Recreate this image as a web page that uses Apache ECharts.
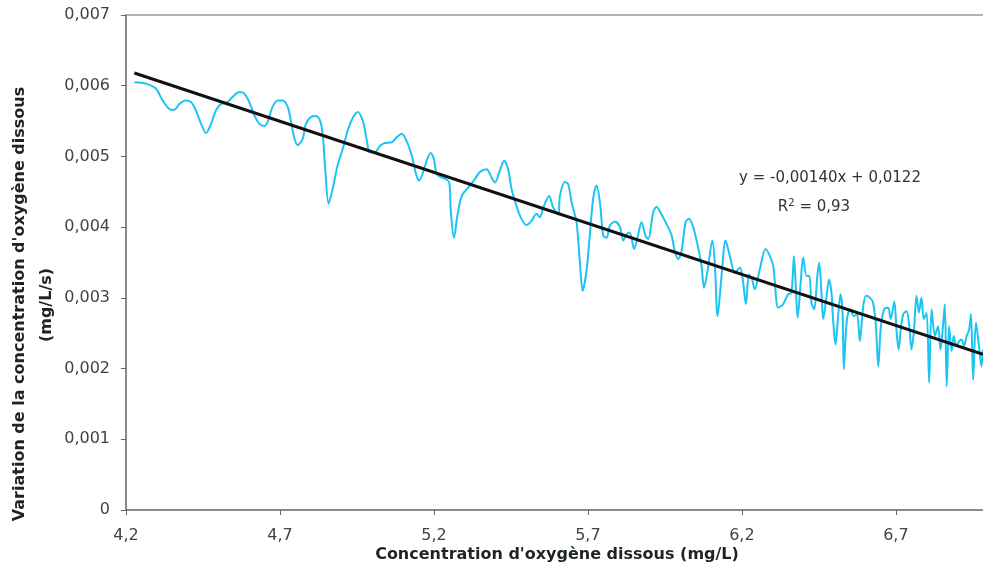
<!DOCTYPE html>
<html>
<head>
<meta charset="utf-8">
<script src="https://cdn.jsdelivr.net/npm/echarts@6/dist/echarts.min.js"></script>
<style>html,body{margin:0;padding:0;background:#fff}#c{width:983px;height:568px}</style>
</head>
<body>
<div id="c"></div>
<script>
// Measured series (x: concentration mg/L, y: variation mg/L/s)
var xValues = [
4.227,4.265,4.297,4.319,4.341,4.357,4.373,4.393,4.411,4.427,4.444,4.460,4.476,4.492,4.508,4.530,4.546,4.568,4.584,4.600,
4.617,4.633,4.649,4.660,4.676,4.693,4.709,4.725,4.736,4.746,4.757,4.774,4.784,4.801,4.817,4.830,4.839,4.847,4.858,4.871,
4.887,4.904,4.921,4.937,4.953,4.970,4.981,4.992,5.008,5.025,5.041,5.063,5.079,5.095,5.111,5.128,5.142,5.152,5.165,5.178,
5.189,5.200,5.209,5.225,5.239,5.250,5.255,5.265,5.276,5.290,5.311,5.333,5.349,5.371,5.387,5.398,5.414,5.428,5.441,5.452,
5.468,5.485,5.501,5.517,5.533,5.544,5.557,5.574,5.587,5.604,5.609,5.625,5.636,5.647,5.663,5.674,5.683,5.696,5.706,5.717,
5.728,5.739,5.750,5.761,5.771,5.788,5.804,5.815,5.826,5.836,5.850,5.861,5.874,5.887,5.896,5.912,5.923,5.939,5.956,5.972,
5.982,5.993,6.004,6.017,6.028,6.042,6.058,6.069,6.077,6.089,6.104,6.112,6.121,6.134,6.147,6.161,6.177,6.194,6.204,6.213,
6.223,6.233,6.242,6.258,6.277,6.291,6.302,6.318,6.334,6.350,6.361,6.369,6.375,6.381,6.391,6.399,6.410,6.419,6.426,6.435,
6.445,6.451,6.459,6.464,6.473,6.483,6.491,6.496,6.504,6.513,6.520,6.527,6.531,6.540,6.551,6.564,6.574,6.583,6.594,6.603,
6.616,6.626,6.635,6.643,6.651,6.662,6.675,6.683,6.695,6.702,6.709,6.716,6.724,6.735,6.743,6.751,6.759,6.767,6.775,6.783,
6.791,6.800,6.808,6.816,6.827,6.837,6.845,6.852,6.859,6.865,6.873,6.881,6.888,6.897,6.906,6.913,6.921,6.930,6.938,6.944,
6.951,6.960,6.970,6.978,6.983
];
var yValues = [
0.00605,0.00603,0.00596,0.00579,0.00567,0.00566,0.00574,0.00579,0.00577,0.00565,0.00546,0.00533,0.00546,0.00565,0.00574,0.00577,0.00584,0.00591,0.00589,0.00577,
0.00558,0.00546,0.00543,0.00549,0.00570,0.00579,0.00579,0.00570,0.00549,0.00527,0.00516,0.00525,0.00546,0.00556,0.00557,0.00551,0.00530,0.00482,0.00433,0.00454,
0.00487,0.00511,0.00538,0.00555,0.00563,0.00549,0.00525,0.00506,0.00506,0.00515,0.00519,0.00520,0.00527,0.00532,0.00522,0.00501,0.00475,0.00466,0.00478,0.00496,
0.00505,0.00496,0.00475,0.00470,0.00468,0.00463,0.00421,0.00385,0.00416,0.00444,0.00456,0.00468,0.00478,0.00482,0.00470,0.00463,0.00480,0.00494,0.00482,0.00454,
0.00430,0.00411,0.00403,0.00409,0.00419,0.00414,0.00430,0.00444,0.00428,0.00418,0.00444,0.00464,0.00461,0.00435,0.00407,0.00350,0.00310,0.00340,0.00388,0.00440,
0.00459,0.00435,0.00388,0.00385,0.00402,0.00408,0.00400,0.00381,0.00390,0.00392,0.00369,0.00385,0.00407,0.00388,0.00383,0.00421,0.00429,0.00418,0.00404,0.00388,
0.00366,0.00355,0.00366,0.00407,0.00412,0.00400,0.00371,0.00345,0.00314,0.00340,0.00381,0.00350,0.00274,0.00331,0.00381,0.00359,0.00336,0.00343,0.00322,0.00291,
0.00333,0.00326,0.00312,0.00340,0.00369,0.00359,0.00345,0.00286,0.00291,0.00305,0.00307,0.00359,0.00317,0.00272,0.00322,0.00357,0.00331,0.00331,0.00293,0.00284,
0.00331,0.00350,0.00303,0.00270,0.00295,0.00326,0.00307,0.00270,0.00234,0.00277,0.00305,0.00279,0.00199,0.00265,0.00284,0.00274,0.00277,0.00239,0.00288,0.00303,
0.00300,0.00293,0.00262,0.00203,0.00258,0.00284,0.00286,0.00270,0.00295,0.00255,0.00227,0.00255,0.00277,0.00281,0.00262,0.00227,0.00255,0.00303,0.00279,0.00300,
0.00270,0.00279,0.00180,0.00284,0.00246,0.00260,0.00227,0.00255,0.00291,0.00175,0.00260,0.00225,0.00246,0.00232,0.00239,0.00241,0.00232,0.00246,0.00255,0.00277,
0.00184,0.00265,0.00232,0.00203,0.00227
];
// Linear trend line endpoints (as drawn)
var trendX = [4.227, 6.983];
var trendY = [0.00618, 0.00220];
// Tick labels
var xTicks = [4.2, 4.7, 5.2, 5.7, 6.2, 6.7];
var yTicks = [0, 0.001, 0.002, 0.003, 0.004, 0.005, 0.006, 0.007];

var seriesData = xValues.map(function (x, i) { return [x, yValues[i]]; });
var trendData = trendX.map(function (x, i) { return [x, trendY[i]]; });

var chart = echarts.init(document.getElementById('c'), null, { renderer: 'canvas' });
var FONT = 'DejaVu Sans';
chart.setOption({
  animation: false,
  backgroundColor: '#ffffff',
  grid: { left: 126, right: 0, top: 15, bottom: 58 },
  xAxis: [{
    type: 'value', min: 4.2, max: 6.983,
    axisLine: { show: true, lineStyle: { color: '#5a6a6a', width: 1.5 } },
    axisTick: { show: true, length: 5, lineStyle: { color: '#5a6a6a' }, customValues: xTicks },
    axisLabel: { customValues: xTicks, margin: 18, color: '#3c4646', fontFamily: FONT, fontSize: 16,
      formatter: function (v) { return v.toFixed(1).replace('.', ','); } },
    splitLine: { show: false }
  }, {
    type: 'value', min: 4.2, max: 6.983, position: 'top',
    axisLine: { show: true, lineStyle: { color: '#9a9a9a', width: 1.5 } },
    axisTick: { show: false }, axisLabel: { show: false }, splitLine: { show: false }
  }],
  yAxis: {
    type: 'value', min: 0, max: 0.007, interval: 0.001,
    axisLine: { show: true, lineStyle: { color: '#5a6a6a', width: 1.5 } },
    axisTick: { show: true, length: 5, lineStyle: { color: '#5a6a6a' } },
    axisLabel: { margin: 16, color: '#3c4646', fontFamily: FONT, fontSize: 16,
      formatter: function (v) { return v === 0 ? '0' : v.toFixed(3).replace('.', ','); } },
    splitLine: { show: false }
  },
  series: [{
    type: 'line', data: seriesData, showSymbol: false, smooth: 0.3,
    lineStyle: { color: '#1cc4f2', width: 2 }, z: 2
  }, {
    type: 'line', data: trendData, showSymbol: false,
    lineStyle: { color: '#111111', width: 3 }, z: 3
  }],
  graphic: [
    { type: 'text', x: 557, y: 555, style: { text: "Concentration d'oxygène dissous (mg/L)", font: 'bold 16px "DejaVu Sans"', fill: '#1e2424', align: 'center', verticalAlign: 'middle' } },
    { type: 'text', x: 20, y: 304, rotation: Math.PI / 2, style: { text: "Variation de la concentration d'oxygène dissous", font: 'bold 16px "DejaVu Sans"', fill: '#1e2424', align: 'center', verticalAlign: 'middle' } },
    { type: 'text', x: 47, y: 305, rotation: Math.PI / 2, style: { text: "(mg/L/s)", font: 'bold 16px "DejaVu Sans"', fill: '#1e2424', align: 'center', verticalAlign: 'middle' } },
    { type: 'text', x: 830, y: 178, style: { text: 'y = -0,00140x + 0,0122', font: '15px "DejaVu Sans"', fill: '#333', align: 'center', verticalAlign: 'middle' } },
    { type: 'text', x: 814, y: 207, style: { text: '{a|R}{s|2}{a| = 0,93}', align: 'center', verticalAlign: 'middle',
      rich: { a: { fontFamily: FONT, fontSize: 15, fill: '#333', color: '#333' }, s: { fontFamily: FONT, fontSize: 10, color: '#333', fill: '#333', padding: [0, 0, 8, 0] } } } }
  ]
});
</script>
</body>
</html>
